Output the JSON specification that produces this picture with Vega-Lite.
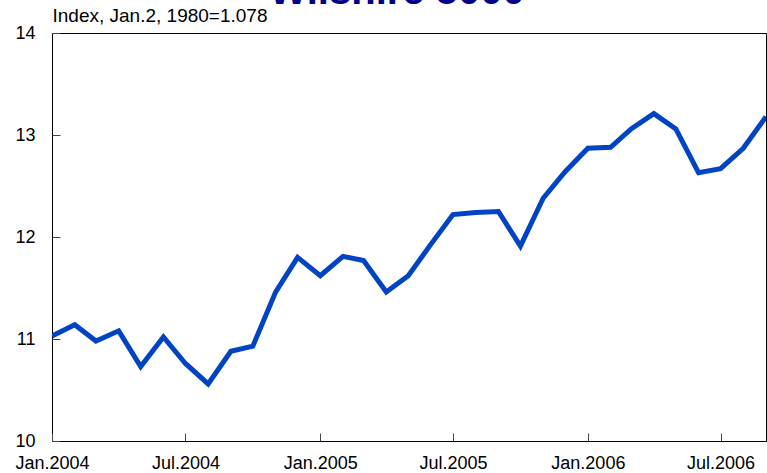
{
  "$schema": "https://vega.github.io/schema/vega-lite/v6.json",
  "width": 714,
  "height": 408,
  "autosize": {"type": "none"},
  "padding": {"left": 52, "top": 33, "right": 1, "bottom": 32},
  "background": "white",
  "config": {
    "font": "Liberation Sans",
    "view": {"stroke": "black", "strokeWidth": 1}
  },
  "title": {
    "text": "Wilshire 5000",
    "fontSize": 40,
    "fontWeight": "bold",
    "color": "#00008B",
    "font": "Liberation Sans",
    "anchor": "middle",
    "baseline": "alphabetic",
    "offset": 0,
    "dy": 38,
    "dx": -12
  },
  "data": {
    "values": [
      {"date": "2004-01", "value": 11.03},
      {"date": "2004-02", "value": 11.14},
      {"date": "2004-03", "value": 10.98},
      {"date": "2004-04", "value": 11.08},
      {"date": "2004-05", "value": 10.73},
      {"date": "2004-06", "value": 11.02},
      {"date": "2004-07", "value": 10.76},
      {"date": "2004-08", "value": 10.56},
      {"date": "2004-09", "value": 10.88},
      {"date": "2004-10", "value": 10.93},
      {"date": "2004-11", "value": 11.46},
      {"date": "2004-12", "value": 11.80},
      {"date": "2005-01", "value": 11.62},
      {"date": "2005-02", "value": 11.81},
      {"date": "2005-03", "value": 11.77},
      {"date": "2005-04", "value": 11.46},
      {"date": "2005-05", "value": 11.62},
      {"date": "2005-06", "value": 11.93},
      {"date": "2005-07", "value": 12.22},
      {"date": "2005-08", "value": 12.24},
      {"date": "2005-09", "value": 12.25},
      {"date": "2005-10", "value": 11.91},
      {"date": "2005-11", "value": 12.38},
      {"date": "2005-12", "value": 12.64},
      {"date": "2006-01", "value": 12.87},
      {"date": "2006-02", "value": 12.88},
      {"date": "2006-03", "value": 13.06},
      {"date": "2006-04", "value": 13.21},
      {"date": "2006-05", "value": 13.06},
      {"date": "2006-06", "value": 12.63},
      {"date": "2006-07", "value": 12.67},
      {"date": "2006-08", "value": 12.87},
      {"date": "2006-09", "value": 13.18}
    ]
  },
  "mark": {"type": "line", "color": "#0044C4", "strokeWidth": 5, "clip": true},
  "encoding": {
    "x": {
      "field": "date",
      "type": "temporal",
      "timeUnit": "utcyearmonth",
      "scale": {
        "domain": [
          {"year": 2004, "month": 1, "date": 1, "utc": true},
          {"year": 2006, "month": 9, "date": 1, "utc": true}
        ]
      },
      "axis": {
        "title": null,
        "values": [
          {"year": 2004, "month": 1, "date": 1, "utc": true},
          {"year": 2004, "month": 7, "date": 1, "utc": true},
          {"year": 2005, "month": 1, "date": 1, "utc": true},
          {"year": 2005, "month": 7, "date": 1, "utc": true},
          {"year": 2006, "month": 1, "date": 1, "utc": true},
          {"year": 2006, "month": 7, "date": 1, "utc": true}
        ],
        "format": "%b.%Y",
        "labelFontSize": 18,
        "labelColor": "black",
        "labelFlush": false,
        "labelPadding": 21,
        "tickSize": -8,
        "tickColor": "#444444",
        "domain": false,
        "grid": false
      }
    },
    "y": {
      "field": "value",
      "type": "quantitative",
      "scale": {"domain": [10, 14], "nice": false, "zero": false},
      "axis": {
        "values": [10, 11, 12, 13, 14],
        "title": "Index, Jan.2, 1980=1.078",
        "titleAngle": 0,
        "titleX": 0,
        "titleY": -8,
        "titleAlign": "left",
        "titleBaseline": "bottom",
        "titleFontSize": 19,
        "titleFontWeight": "normal",
        "titleColor": "black",
        "labelFontSize": 18,
        "labelColor": "black",
        "labelPadding": 25,
        "tickSize": -8,
        "tickColor": "#444444",
        "domain": false,
        "grid": false
      }
    }
  }
}
